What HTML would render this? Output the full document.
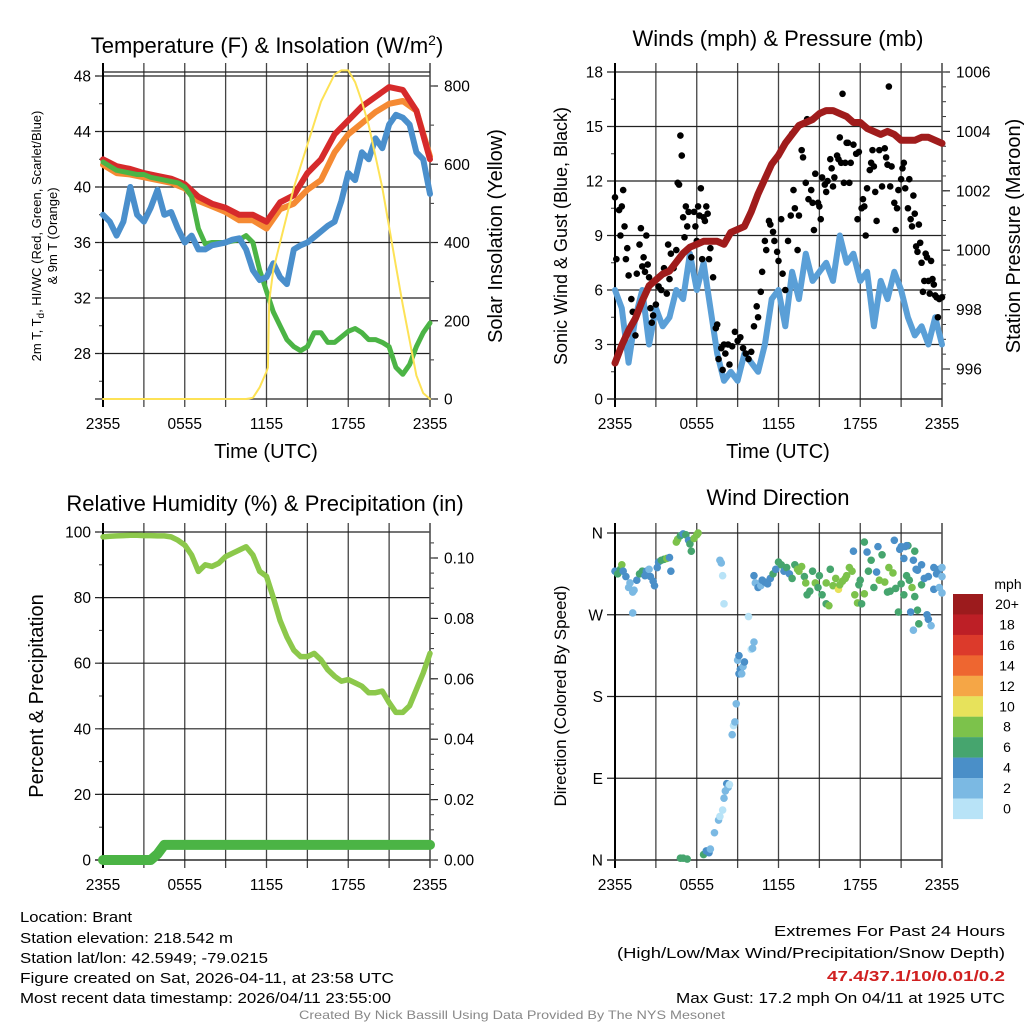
<!DOCTYPE html>
<html><head><meta charset="utf-8"><style>
body{margin:0;background:#fff;}
svg{display:block;font-family:"Liberation Sans",sans-serif;}
</style></head><body>
<svg id="fig" width="1024" height="1024" viewBox="0 0 1024 1024" xmlns="http://www.w3.org/2000/svg">
<g id="g1"></g>
<g id="g2"></g>
<g id="g3"></g>
<g id="g4"></g>
<text x="267" y="53" font-size="22" text-anchor="middle">Temperature (F) &amp; Insolation (W/m<tspan dy="-8" font-size="14">2</tspan><tspan dy="8">)</tspan></text>
<text x="778" y="46" font-size="22" text-anchor="middle">Winds (mph) &amp; Pressure (mb)</text>
<text x="265" y="511" font-size="22" text-anchor="middle">Relative Humidity (%) &amp; Precipitation (in)</text>
<text x="778" y="505" font-size="22" text-anchor="middle">Wind Direction</text>
<text x="266" y="458" font-size="20" text-anchor="middle">Time (UTC)</text>
<text x="778" y="458" font-size="20" text-anchor="middle">Time (UTC)</text>
<text transform="translate(41,236) rotate(-90)" font-size="13" text-anchor="middle">2m T, T<tspan dy="3" font-size="10">d</tspan><tspan dy="-3">, HI/WC (Red, Green, Scarlet/Blue)</tspan></text>
<text transform="translate(57,236) rotate(-90)" font-size="13" text-anchor="middle">&amp; 9m T (Orange)</text>
<text transform="translate(502,236) rotate(-90)" font-size="20" text-anchor="middle">Solar Insolation (Yellow)</text>
<text transform="translate(567,236) rotate(-90)" font-size="18" text-anchor="middle">Sonic Wind &amp; Gust (Blue, Black)</text>
<text transform="translate(1020,236) rotate(-90)" font-size="20" text-anchor="middle">Station Pressure (Maroon)</text>
<text transform="translate(43,696) rotate(-90)" font-size="20" text-anchor="middle">Percent &amp; Precipitation</text>
<text transform="translate(566,696) rotate(-90)" font-size="17" text-anchor="middle">Direction (Colored By Speed)</text>
<g font-size="14.5">
<text x="20" y="922" textLength="112" lengthAdjust="spacingAndGlyphs">Location: Brant</text>
<text x="20" y="943" textLength="213" lengthAdjust="spacingAndGlyphs">Station elevation: 218.542 m</text>
<text x="20" y="963" textLength="248" lengthAdjust="spacingAndGlyphs">Station lat/lon: 42.5949; -79.0215</text>
<text x="20" y="983" textLength="374" lengthAdjust="spacingAndGlyphs">Figure created on Sat, 2026-04-11, at 23:58 UTC</text>
<text x="20" y="1003" textLength="371" lengthAdjust="spacingAndGlyphs">Most recent data timestamp: 2026/04/11 23:55:00</text>
<text x="1005" y="936" text-anchor="end" textLength="231" lengthAdjust="spacingAndGlyphs">Extremes For Past 24 Hours</text>
<text x="1005" y="958" text-anchor="end" textLength="388" lengthAdjust="spacingAndGlyphs">(High/Low/Max Wind/Precipitation/Snow Depth)</text>
<text x="1005" y="981" text-anchor="end" fill="#d02020" font-weight="bold" textLength="178" lengthAdjust="spacingAndGlyphs">47.4/37.1/10/0.01/0.2</text>
<text x="1005" y="1003" text-anchor="end" textLength="329" lengthAdjust="spacingAndGlyphs">Max Gust: 17.2 mph On 04/11 at 1925 UTC</text>
</g>
<text x="512" y="1019" font-size="12" fill="#888" text-anchor="middle" textLength="426" lengthAdjust="spacingAndGlyphs">Created By Nick Bassill Using Data Provided By The NYS Mesonet</text>
</svg>
<script>
// ---------- data ----------
const xTickLabels = ["2355","0555","1155","1755","2355"];
const tempTicks = [28,32,36,40,44,48];
const solarTicks = [0,200,400,600,800];
const windTicks = [0,3,6,9,12,15,18];
const presTicks = [996,998,1000,1002,1004,1006];
const rhTicks = [0,20,40,60,80,100];
const precipTicks = [0,0.02,0.04,0.06,0.08,0.10];
const dirLabels = ["N","E","S","W","N"];
const dirTicks = [0,90,180,270,360];
const tempRed = [42.0,41.5,41.3,41.0,40.8,40.6,40.2,39.3,38.8,38.5,38.0,38.0,37.5,38.9,39.4,41.0,42.0,43.8,44.8,45.8,46.5,47.2,47.0,45.5,42.0];
const tempOrange = [41.6,41.0,40.9,40.7,40.5,40.3,39.9,39.0,38.6,38.2,37.6,37.6,37.0,38.4,38.8,39.8,40.5,42.5,43.8,44.6,45.4,46.0,46.2,45.5,42.2];
const tempGreen = [41.8,41.5,41.2,41.1,41.0,40.9,40.9,40.7,40.6,40.5,40.4,40.3,40.0,39.3,37.0,35.9,36.0,36.0,36.0,36.1,36.2,36.5,36.0,34.0,32.5,31.0,30.0,29.0,28.5,28.2,28.5,29.5,29.5,28.8,28.8,29.2,29.6,29.8,29.5,29.0,29.0,28.8,28.5,27.0,26.5,27.2,28.5,29.5,30.2];
const tempBlue = [38.0,37.5,36.5,37.5,40.0,38.0,37.5,38.5,39.8,38.0,38.2,37.0,36.0,36.5,35.5,35.5,35.8,35.9,36.0,36.2,36.3,35.5,34.0,33.3,33.5,34.5,33.5,33.0,35.5,35.8,36.0,36.4,36.8,37.2,37.5,39.0,41.0,40.5,42.5,42.0,43.5,42.8,44.5,45.2,45.0,44.5,42.5,42.0,39.5];
const solarH = [0,10.5,11,11.5,12,12.1,12.2,12.5,13,14,15,16,17,17.5,18,18.5,19,19.5,20,20.5,21,21.5,22,22.5,23,23.5,24];
const solarV = [0,0,3,30,70,80,250,330,400,540,650,760,830,840,840,810,760,700,620,540,440,340,240,150,60,15,0];
const windBlue = [6.0,5.0,2.0,4.5,6.0,3.0,5.0,4.0,4.5,6.0,5.5,8.0,6.0,7.5,5.0,2.5,1.0,1.5,1.0,2.5,2.0,1.5,3.0,5.5,6.0,4.0,7.0,5.5,8.0,6.5,7.0,7.5,6.5,9.0,7.5,8.0,6.5,7.0,4.0,6.5,5.5,7.0,6.0,4.5,3.5,4.0,3.0,4.5,3.0];
const pressure = [996.2,996.8,997.3,997.7,998.3,998.8,999.0,999.2,999.3,999.6,999.9,1000.1,1000.2,1000.3,1000.3,1000.3,1000.2,1000.6,1000.7,1000.8,1001.3,1001.9,1002.4,1002.9,1003.2,1003.6,1003.9,1004.2,1004.3,1004.4,1004.6,1004.7,1004.7,1004.6,1004.5,1004.3,1004.3,1004.1,1004.0,1003.9,1004.0,1003.9,1003.7,1003.7,1003.7,1003.8,1003.8,1003.7,1003.6];
const gustH = [0,0.1,0.3,0.4,0.5,0.6,0.7,0.8,0.9,1,1.2,1.3,1.5,1.6,1.8,1.9,2,2.1,2.2,2.3,2.4,2.5,2.6,2.7,2.8,3,3.2,3.4,3.6,3.8,3.9,4,4.1,4.3,4.5,4.6,4.7,4.8,4.9,5,5.1,5.2,5.3,5.4,5.6,5.8,5.9,6,6.1,6.2,6.3,6.4,6.5,6.6,6.7,6.8,6.9,7,7.2,7.4,7.5,7.6,7.8,7.9,8,8.1,8.3,8.4,8.6,8.8,9,9.2,9.4,9.6,9.8,10,10.2,10.4,10.5,10.7,10.8,11,11.1,11.3,11.4,11.6,11.7,11.9,12,12.2,12.3,12.5,12.7,12.9,13,13.1,13.2,13.4,13.5,13.7,13.8,14,14.1,14.2,14.4,14.5,14.6,14.7,14.9,15,15.1,15.2,15.4,15.5,15.6,15.8,15.9,16,16.1,16.3,16.4,16.5,16.6,16.7,16.8,16.9,17,17.1,17.2,17.3,17.5,17.6,17.7,17.8,17.9,18.1,18.2,18.3,18.4,18.5,18.7,18.8,18.9,19,19.1,19.2,19.4,19.6,19.8,19.9,20,20.1,20.2,20.3,20.5,20.6,20.7,20.8,20.9,21,21.1,21.2,21.3,21.5,21.6,21.7,21.8,21.9,22,22.1,22.2,22.3,22.4,22.5,22.6,22.7,22.8,22.9,23,23.1,23.2,23.3,23.4,23.5,23.6,23.7,23.8,24];
const gustV = [11.1,7.7,10.4,9.0,10.6,11.5,9.5,7.7,8.3,6.8,5.5,4.8,3.5,6.9,8.5,9.4,7.3,7.8,7.0,9.0,7.4,6.7,5.0,4.2,4.6,5.2,6.2,6.0,7.2,5.8,8.5,6.6,8.0,7.2,8.2,11.9,11.8,14.5,13.4,10.0,8.9,10.6,9.5,10.3,7.8,10.3,9.5,8.7,10.6,10.1,11.6,7.7,10.0,9.8,10.6,10.2,7.7,8.3,6.7,3.9,4.1,2.2,2.8,1.6,3.0,2.5,3.0,1.9,2.9,3.7,3.2,3.4,2.8,2.5,2.2,2.6,4.0,5.1,4.5,5.9,7.0,8.7,8.2,9.8,9.6,9.2,8.7,8.1,7.6,9.9,6.9,6.0,8.7,10.1,14.6,11.5,10.5,8.2,10.1,13.7,13.3,11.9,15.4,11.0,11.5,10.8,9.3,12.4,10.8,10.6,9.9,12.2,11.8,11.4,12.0,13.2,12.7,11.7,12.2,13.4,13.2,14.4,13.0,16.8,11.9,13.0,14.1,14.1,11.9,13.0,14.0,15.2,13.5,9.9,13.6,10.5,11.0,10.6,9.0,11.6,12.6,13.0,13.7,12.8,11.4,9.8,13.7,11.7,13.8,13.3,12.9,17.2,11.7,12.8,10.8,9.3,10.5,11.5,14.3,12.1,12.7,13.0,11.6,10.5,12.1,9.9,9.5,11.2,10.2,8.4,8.1,9.6,8.6,7.5,5.9,6.5,8.0,7.8,6.5,5.8,7.6,6.6,6.3,5.7,5.6,4.5,5.5,5.6];
const rh = [98.5,98.7,98.8,98.9,99.0,99.0,98.9,98.9,98.8,98.8,98.5,97.5,96.0,93.0,88.0,90.0,89.5,90.5,92.5,93.5,94.5,95.5,93.0,88.0,86.5,80.0,73.0,68.0,64.0,62.0,62.0,63.0,61.0,58.0,56.0,54.5,55.0,54.0,53.0,51.0,51.0,51.5,48.0,45.0,45.0,47.0,52.0,57.0,63.0];
const precip = [0,0,0,0,0,0,0,0,0.002,0.005,0.005,0.005,0.005,0.005,0.005,0.005,0.005,0.005,0.005,0.005,0.005,0.005,0.005,0.005,0.005,0.005,0.005,0.005,0.005,0.005,0.005,0.005,0.005,0.005,0.005,0.005,0.005,0.005,0.005,0.005,0.005,0.005,0.005,0.005,0.005,0.005,0.005,0.005,0.005];
const dirH = [0,0.2,0.4,0.5,0.6,0.8,1,1.1,1.3,1.4,1.3,1.6,1.8,2,2.2,2.3,2.5,2.6,2.8,2.9,3.1,3.2,3.4,3.6,3.8,4,4.1,4.5,4.6,4.8,5,5.2,5.4,5.5,5.6,5.8,6,6.1,4.8,5,5.3,6.5,6.7,6.9,7,7.3,7.6,7.7,7.9,8,8.1,8.2,8.3,8.4,8.6,8.7,8.8,8.9,9.1,9.2,9.3,9.4,9.5,9,9.1,10,10.1,10.2,9.8,7.7,7.8,7.9,8,10.2,10.3,10.5,10.7,10.8,11,11.2,11.4,11.6,11.8,12,12.2,12.4,12.6,12.8,13,13.2,13.4,13.5,13.7,13.9,14,14.1,14.3,14.5,14.7,14.9,15,15.2,15.5,15.5,15.7,15.8,16,16.2,16.4,16.5,16.7,16.9,17,17.2,17.4,17.6,17.8,17.9,18,18.1,18.3,18.5,18.6,18.8,19,19.2,19.4,19.6,19.8,20,20.1,20.2,20.4,20.6,20.8,21,21.2,21.4,21.6,21.8,22,22.2,22.3,22.5,22.7,22.9,23,23.2,23.4,23.6,23.8,24,24,21.3,21.5,21.2,21.9,22.2,22.5,23,23.4,23.8,24,21.7,21.9,22.1,17.5,18.3,19.3,20.5,20.9,21.4,21,22];
const dirV = [318,315,320,325,318,312,300,305,295,297,272,308,315,318,313,318,320,312,307,302,322,328,330,331,332,333,318,350,353,357,359,358,352,348,340,354,358,360,2,2,1,6,10,8,12,30,44,48,55,68,76,84,80,83,138,148,152,172,205,210,205,213,218,220,225,232,233,240,268,330,327,313,282,313,305,300,302,308,306,304,310,315,320,328,325,318,322,315,310,325,320,318,323,312,305,292,296,318,305,300,313,292,305,282,280,320,302,310,298,303,307,310,313,322,318,292,283,303,308,282,293,339,318,330,300,317,308,336,306,295,322,296,316,299,273,304,292,313,308,300,290,275,260,303,310,270,265,258,322,315,320,312,322,345,346,332,330,319,325,312,298,300,294,273,253,320,340,350,345,352,342,346,345,340];
const dirSpd = [5,7,6,9,5,4,3,2,3,2,3,5,7,7,4,5,3,4,4,5,5,5,7,7,8,5,5,9,8,7,5,6,5,6,7,8,9,8,6,7,6,6,5,4,3,3,2,1,1,3,3,4,2,1,2,1,2,3,4,4,3,3,4,3,4,1,2,3,1,3,3,1,1,4,3,4,3,4,5,4,5,6,5,6,7,5,6,4,7,7,8,9,8,7,8,6,7,7,8,6,7,6,8,7,8,7,9,8,11,8,8,9,9,9,9,9,8,6,6,7,9,4,7,7,6,5,9,6,8,7,9,6,9,7,6,7,6,6,7,8,6,6,7,6,4,4,4,3,4,4,4,3,3,5,6,5,4,4,4,4,4,3,3,4,3,4,4,6,4,4,5,5,4,6];
const cbLabels = ["20+","18","16","14","12","10","8","6","4","2","0"];
const cbColors = ["#9c1b1d","#bd1f26","#dc3a2b","#ee6630","#f5a646","#e7e25b","#7cc24b","#46a56e","#4a8fc8","#7bb9e3","#b8e3f7"];

// ---------- helpers ----------
const NS="http://www.w3.org/2000/svg";
function mk(parent,tag,attrs){const e=document.createElementNS(NS,tag);for(const k in attrs)e.setAttribute(k,attrs[k]);parent.appendChild(e);return e;}
function halfH(arr){return arr.map((v,i)=>[i*0.5,v]);}
function fullH(arr){return arr.map((v,i)=>[i,v]);}
function panel(g,x0,x1,yTop,yBot,leftVals,leftY,leftFmt,rightVals,rightY,rightFmt,minorL,minorR){
  const xs=h=>x0+(x1-x0)*h/24;
  for(let h=0;h<=24;h+=3){
    const l=mk(g,'line',{x1:xs(h),x2:xs(h),y1:yTop,y2:yBot+8,stroke:'#444','stroke-width':1.3});
    
    
  }
  leftVals.forEach(v=>{
    const y=leftY(v);
    const l=mk(g,'line',{x1:x0-8,x2:x1,y1:y,y2:y,stroke:'#222','stroke-width':1.2});
    
    
    const t=mk(g,'text',{x:x0-12,y:y+5.5,'font-size':15.5,'text-anchor':'end'});t.textContent=leftFmt(v);
    
    
  });
  minorL.forEach(v=>{mk(g,'line',{x1:x0-4,x2:x0,y1:leftY(v),y2:leftY(v),stroke:'#333','stroke-width':1});});
  if(rightVals){
    rightVals.forEach(v=>{
      const y=rightY(v);
      mk(g,'line',{x1:x1,x2:x1+8,y1:y,y2:y,stroke:'#222','stroke-width':1.2});
      const t=mk(g,'text',{x:x1+14,y:y+5.5,'font-size':15.5});t.textContent=rightFmt(v);
      
      
    });
    minorR.forEach(v=>{mk(g,'line',{x1:x1,x2:x1+4,y1:rightY(v),y2:rightY(v),stroke:'#333','stroke-width':1});});
  }
  mk(g,'line',{x1:x0,x2:x0,y1:yTop,y2:yBot+8,stroke:'#000','stroke-width':2});
  mk(g,'line',{x1:x1,x2:x1,y1:yTop,y2:yBot+8,stroke:'#555','stroke-width':1.5});
  mk(g,'line',{x1:x0-8,x2:x1,y1:yBot,y2:yBot,stroke:'#222','stroke-width':1.3});
  xTickLabels.forEach((s,i)=>{
    const t=mk(g,'text',{x:xs(i*6),y:yBot+30,'font-size':15.5,'text-anchor':'middle'});t.textContent=s;
    
    
  });
  return xs;
}
function line(g,pts,xs,ys,color,w,name){
  const d=pts.map((p,i)=>(i?'L':'M')+xs(p[0]).toFixed(1)+','+ys(p[1]).toFixed(1)).join('');
  const e=mk(g,'path',{d:d,fill:'none',stroke:color,'stroke-width':w,'stroke-linejoin':'round','stroke-linecap':'round'});
  
  
  return e;
}
function range(a,b,s){const r=[];for(let v=a;v<=b+1e-9;v+=s)r.push(+v.toFixed(4));return r;}

// ---------- panel 1 ----------
const g1=document.getElementById('g1');
const tY=t=>76+(48-t)*13.875, sY=s=>399-s*0.39125;
const xs1=panel(g1,103,430,63,399,tempTicks,tY,v=>v,solarTicks,sY,v=>v,range(26,48,2),range(0,800,100));
mk(g1,'line',{x1:103,x2:430,y1:72,y2:72,stroke:'#222','stroke-width':1.2});
line(g1,fullH(tempOrange),xs1,tY,'#f58a33',6,'orange-9m-temp-line');
line(g1,fullH(tempRed),xs1,tY,'#d62a2b',6,'red-temp-line');
line(g1,halfH(tempGreen),xs1,tY,'#4bb445',5,'green-dewpoint-line');
line(g1,halfH(tempBlue),xs1,tY,'#4a8fcc',6,'blue-windchill-line');
line(g1,solarH.map((h,i)=>[h,solarV[i]]),xs1,sY,'#fde256',2,'yellow-insolation-line');

// ---------- panel 2 ----------
const g2=document.getElementById('g2');
const wY=w=>72+(18-w)*18.167, pY=p=>72+(1006-p)*29.7;
const xs2=panel(g2,615,942,63,399,windTicks,wY,v=>v,presTicks,pY,v=>v,range(0,18,1.5),range(995.5,1006,0.5));
line(g2,halfH(windBlue),xs2,wY,'#5a9fd7',6,'blue-wind-line');
gustH.forEach((h,i)=>{
  const c=mk(g2,'circle',{cx:xs2(h),cy:wY(gustV[i]),r:3.3,fill:'#000'});
  
  
});
line(g2,halfH(pressure),xs2,pY,'#a01c1c',7,'maroon-pressure-line');

// ---------- panel 3 ----------
const g3=document.getElementById('g3');
const rY=r=>532+(100-r)*3.28, qY=p=>860-p*3020;
const xs3=panel(g3,103,430,523,860,rhTicks,rY,v=>v,precipTicks,qY,v=>v.toFixed(2),range(0,100,10),range(0,0.108,0.005));
line(g3,halfH(rh),xs3,rY,'#8cc84b',5.5,'rh-line');
line(g3,halfH(precip),xs3,qY,'#4bb445',10,'precip-line');

// ---------- panel 4 ----------
const g4=document.getElementById('g4');
const dY=d=>860-d*327/360;
const xs4=panel(g4,615,942,523,860,dirTicks,dY,(v)=>dirLabels[dirTicks.indexOf(v)],null,null,null,[],[]);
function spdColor(s){const idx=Math.min(10,Math.floor(s/2));return cbColors[10-idx];}
dirH.forEach((h,i)=>{
  const c=mk(g4,'circle',{cx:xs4(h),cy:dY(dirV[i]),r:3.8,fill:spdColor(dirSpd[i])});
  
  
});
const cb=mk(document.getElementById('fig'),'g',{});


const mph=mk(cb,'text',{x:1008,y:589,'font-size':14,'text-anchor':'middle'});mph.textContent='mph';


cbColors.forEach((c,i)=>{
  const y=594+i*20.45;
  const r=mk(cb,'rect',{x:953,y:y,width:30,height:20.6,fill:c});
  
  
  const t=mk(cb,'text',{x:1007,y:y+15,'font-size':14,'text-anchor':'middle'});t.textContent=cbLabels[i];
  
  
});
</script>
</body></html>
